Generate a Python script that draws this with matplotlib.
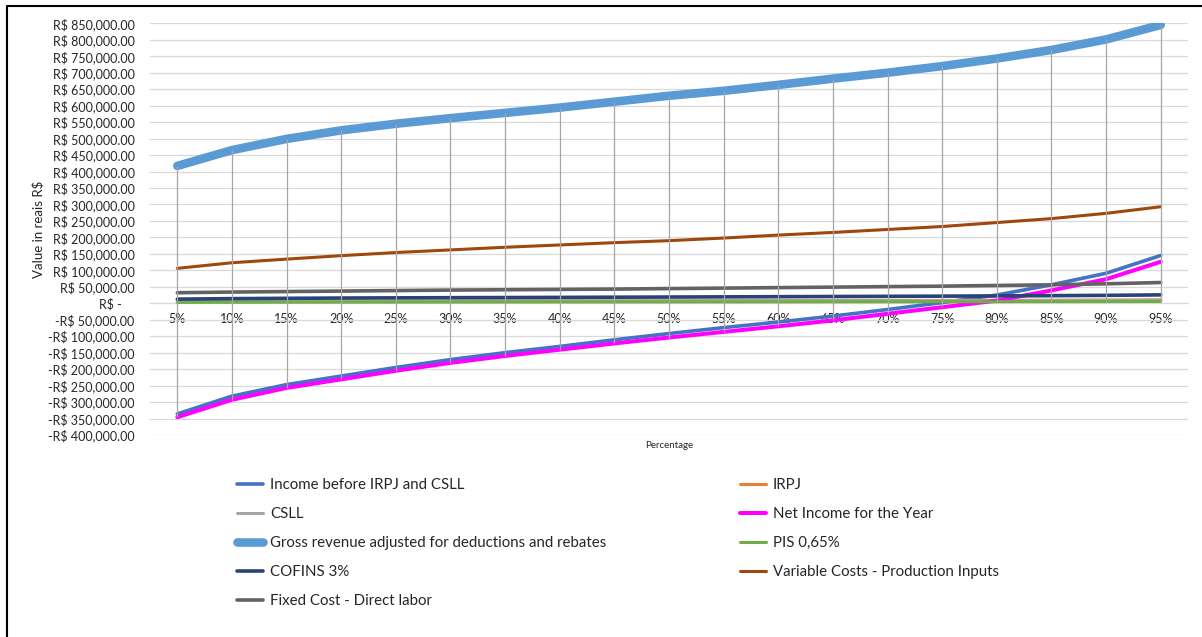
import numpy as np
import matplotlib
matplotlib.use("Agg")
import matplotlib.pyplot as plt
from matplotlib.ticker import FuncFormatter, MultipleLocator
from matplotlib.lines import Line2D

plt.rcParams['font.family'] = ['Lato', 'DejaVu Sans']

PERCENTAGES = ['5%', '10%', '15%', '20%', '25%', '30%', '35%', '40%', '45%', '50%',
               '55%', '60%', '65%', '70%', '75%', '80%', '85%', '90%', '95%']

# values in R$
INCOME_BEFORE = [-336000, -282000, -247000, -221000, -195000, -171000, -150000, -131000,
                 -111000, -92000, -74000, -57000, -39000, -19000, 2000, 25000, 56000,
                 91000, 145000]
IRPJ = [5000, 5600, 6000, 6300, 6500, 6700, 6900, 7100, 7300, 7600,
        7700, 8000, 8200, 8400, 8600, 8900, 9200, 9600, 10100]
CSLL = [4500, 5000, 5400, 5700, 5900, 6100, 6200, 6400, 6600, 6800,
        7000, 7200, 7400, 7600, 7800, 8000, 8300, 8700, 9100]
NET_INCOME = [-346000, -293000, -257000, -231000, -205000, -181000, -160000, -141000,
              -122000, -104000, -87000, -70000, -52000, -32000, -12000, 8000, 39000,
              73000, 126000]
GROSS_REVENUE = [417000, 465000, 499000, 525000, 545000, 562000, 578000, 594000, 612000,
                 630000, 645000, 663000, 682000, 700000, 720000, 743000, 769000, 801000,
                 845000]
PIS = [2700, 3000, 3200, 3400, 3500, 3700, 3800, 3900, 4000, 4100,
       4200, 4300, 4400, 4600, 4700, 4800, 5000, 5200, 5500]
COFINS = [12500, 14000, 15000, 15800, 16400, 16900, 17300, 17800, 18400, 18900,
          19400, 19900, 20500, 21000, 21600, 22300, 23100, 24000, 25400]
VARIABLE_COSTS = [106000, 123000, 134000, 144500, 154000, 162000, 170000, 177000, 184000,
                  190000, 198000, 207000, 215000, 224000, 233000, 245000, 257000, 273000,
                  293000]
FIXED_COST = [32000, 34000, 35500, 37000, 38500, 40000, 41000, 42000, 43000, 44500,
              46000, 47500, 49000, 50500, 52000, 54000, 56000, 59000, 63000]

SERIES = [
    ("Income before IRPJ and CSLL", INCOME_BEFORE, "#4472C4", 2.6),
    ("IRPJ", IRPJ, "#ED7D31", 2.2),
    ("CSLL", CSLL, "#A5A5A5", 2.2),
    ("Net Income for the Year", NET_INCOME, "#FF00FF", 2.9),
    ("Gross revenue adjusted for deductions and rebates", GROSS_REVENUE, "#5B9BD5", 6.2),
    ("PIS 0,65%", PIS, "#70AD47", 2.2),
    ("COFINS 3%", COFINS, "#264478", 2.6),
    ("Variable Costs - Production Inputs", VARIABLE_COSTS, "#9E480E", 2.2),
    ("Fixed Cost - Direct labor", FIXED_COST, "#636363", 2.6),
]


def brl(v, pos):
    if v == 0:
        return "R$ -    "
    s = f"R$ {abs(v):,.2f}"
    return "-" + s if v < 0 else s


W, H = 1202, 637
fig = plt.figure(figsize=(W / 100, H / 100), dpi=100)
ax = fig.add_axes([150 / W, 1 - 435 / H, (1188 - 150) / W, (435 - 23.3) / H])

x = np.arange(len(PERCENTAGES))
handles = {}
for label, vals, color, lw in SERIES:
    ln, = ax.plot(x, vals, color=color, lw=lw, solid_capstyle="round",
                  solid_joinstyle="round", label=label, zorder=3)
    handles[label] = ln

# high-low lines between the extremes of all series
stack = np.array([s[1] for s in SERIES])
ax.vlines(x, stack.min(axis=0), stack.max(axis=0), color="#A6A6A6", lw=0.9, zorder=4)

ax.set_xlim(-0.5, len(PERCENTAGES) - 0.5)
ax.set_ylim(-400000, 850000)
ax.yaxis.set_major_locator(MultipleLocator(50000))
ax.yaxis.set_major_formatter(FuncFormatter(brl))
ax.set_xticks(x)
ax.set_xticklabels(PERCENTAGES)
ax.grid(axis="y", color="#D9D9D9", lw=0.9)
ax.set_axisbelow(True)
for side in ("top", "right", "left"):
    ax.spines[side].set_visible(False)
ax.spines["bottom"].set_position(("data", 0))
ax.spines["bottom"].set_color("#D9D9D9")
ax.tick_params(axis="both", length=0, labelsize=9, labelcolor="#262626")
ax.tick_params(axis="y", pad=11)
ax.tick_params(axis="x", pad=7)

fig.text(38 / W, 1 - 229 / H, "Value in reais R$", rotation=90, ha="center", va="center",
         fontsize=9.5, color="#262626")
fig.text(669 / W, 1 - 446 / H, "Percentage", ha="center", va="center",
         fontsize=7, color="#262626")

# legend, two columns laid out row by row
left_col = ["Income before IRPJ and CSLL", "CSLL",
            "Gross revenue adjusted for deductions and rebates", "COFINS 3%",
            "Fixed Cost - Direct labor"]
right_col = ["IRPJ", "Net Income for the Year", "PIS 0,65%",
             "Variable Costs - Production Inputs"]
leg_kw = dict(loc="upper left", frameon=False, fontsize=10.8, handlelength=1.7,
              handletextpad=0.5, labelspacing=1.0, borderpad=0, borderaxespad=0)
leg1 = fig.legend([handles[k] for k in left_col], left_col,
                  bbox_to_anchor=(237 / W, 1 - 478 / H), **leg_kw)
leg2 = fig.legend([handles[k] for k in right_col], right_col,
                  bbox_to_anchor=(740 / W, 1 - 478 / H), **leg_kw)
for leg in (leg1, leg2):
    for t in leg.get_texts():
        t.set_color("#262626")

# outer frame
fig.add_artist(Line2D([7 / W, 7 / W, 1.0], [0.0, 1 - 6 / H, 1 - 6 / H],
                      transform=fig.transFigure, color="black", lw=1.5))

fig.savefig("out.png", dpi=100)
